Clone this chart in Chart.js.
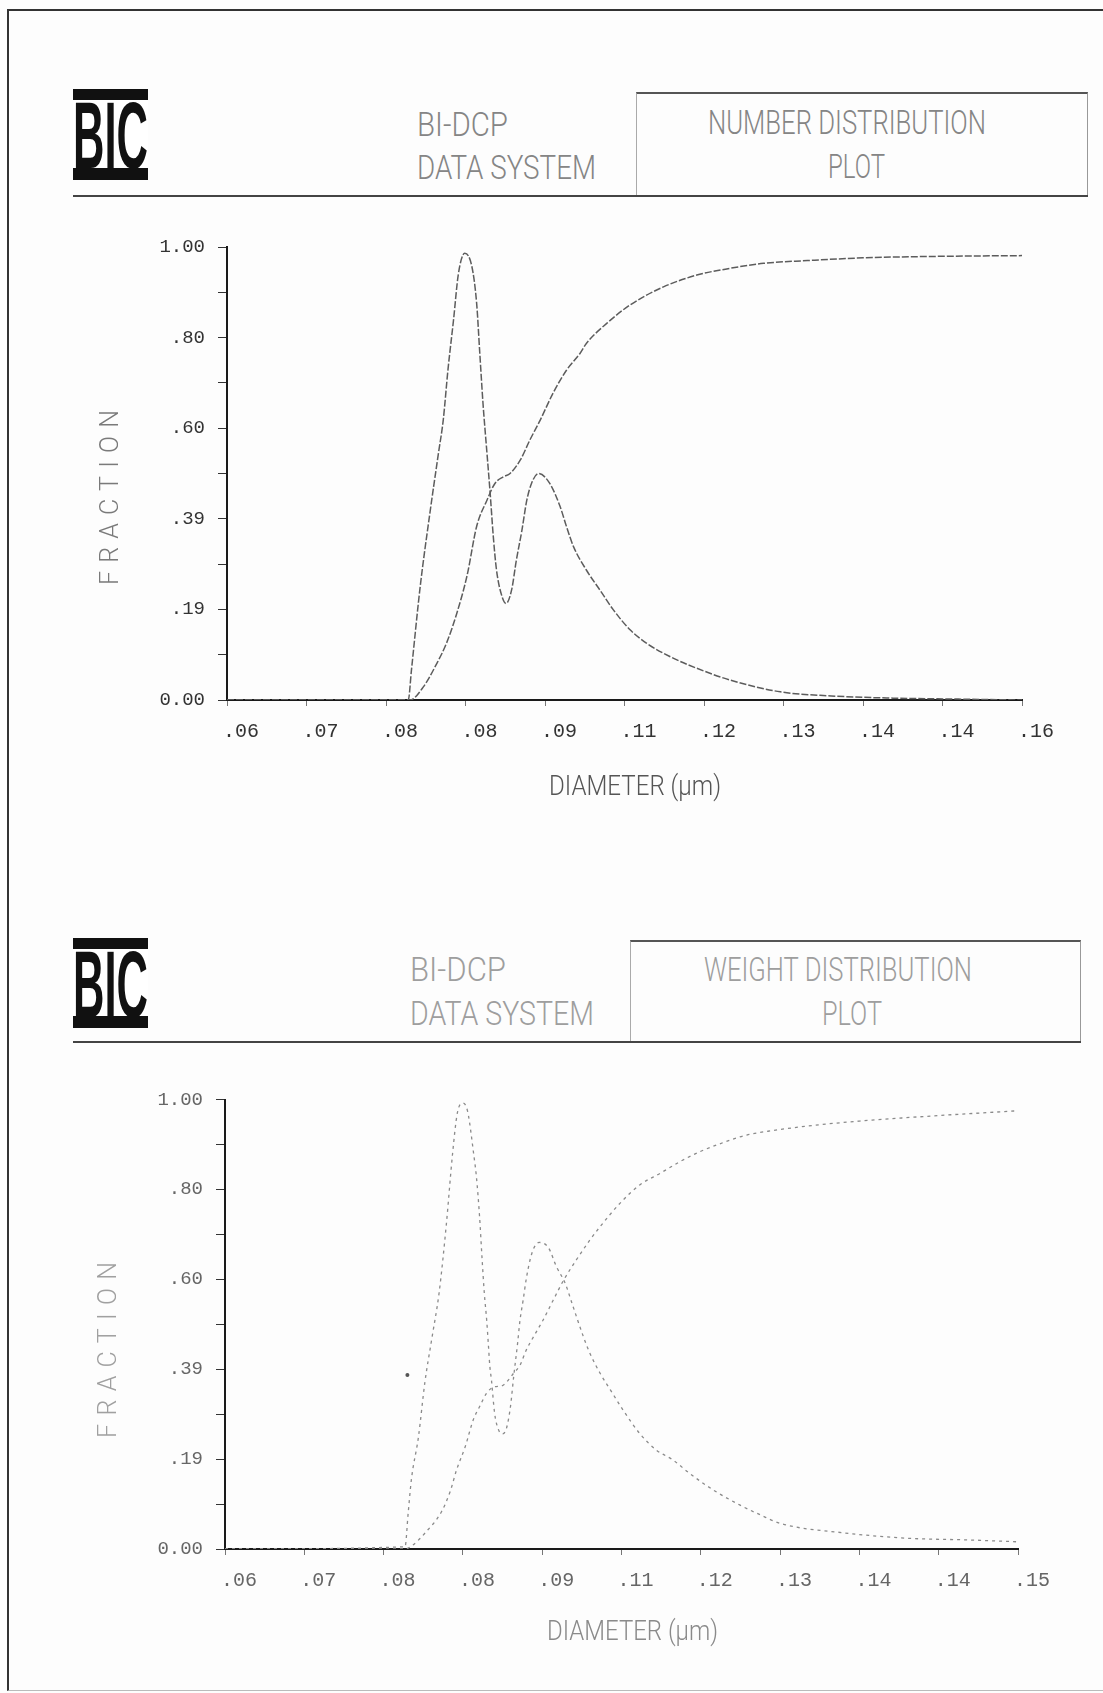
<!DOCTYPE html>
<html>
<head>
<meta charset="utf-8">
<script src="https://cdn.jsdelivr.net/npm/chart.js@4.4.1/dist/chart.umd.min.js"></script>
<style>
html,body{margin:0;padding:0;background:#fdfdfd;}
body{width:1103px;height:1693px;position:relative;overflow:hidden;}
.frame{position:absolute;left:7px;top:9px;width:1096px;height:1682px;border-left:2px solid #333;border-top:2px solid #333;border-bottom:1px solid #bbb;box-sizing:border-box;}
.hline{position:absolute;height:2px;background:#444;}
.box{position:absolute;border-top:2px solid #555;border-left:1px solid #aaa;border-right:1px solid #999;box-sizing:border-box;}
.logo{position:absolute;background:#fff;border-top:11px solid #111;border-bottom:12px solid #111;box-sizing:border-box;overflow:hidden;}
.logo span{position:absolute;left:0;top:-12px;font:bold 95px/95px 'Liberation Sans',Arial,sans-serif;color:#111;transform-origin:0 0;white-space:nowrap;}
.t{position:absolute;white-space:nowrap;font-family:Roboto,'Liberation Sans',sans-serif;font-weight:300;line-height:1;transform-origin:0 50%;}
canvas{position:absolute;left:0;}
</style>
</head>
<body>
<div class="frame"></div>

<div class="logo" style="left:73px;top:89px;width:75px;height:91px"><span>BIC</span></div>
<div class="box" style="left:636px;top:92px;width:452px;height:104px"></div>
<div class="hline" style="left:73px;top:195px;width:1015px"></div>
<canvas id="c1" width="1103" height="620" style="top:200px;width:1103px;height:620px"></canvas>

<div class="logo" style="left:73px;top:938px;width:75px;height:90px"><span>BIC</span></div>
<div class="box" style="left:630px;top:940px;width:451px;height:102px"></div>
<div class="hline" style="left:73px;top:1041px;width:1008px"></div>
<canvas id="c2" width="1103" height="620" style="top:1050px;width:1103px;height:620px"></canvas>

<script>
// ---------- data ----------
const xTickValues = [0.06,0.07,0.08,0.09,0.10,0.11,0.12,0.13,0.14,0.15,0.16];
const yTickValues = [0,0.1,0.2,0.3,0.4,0.5,0.6,0.7,0.8,0.9,1.0];
const numXTickLabels = ['.06','.07','.08','.08','.09','.11','.12','.13','.14','.14','.16'];
const wtXTickLabels  = ['.06','.07','.08','.08','.09','.11','.12','.13','.14','.14','.15'];
const numYTickLabels = ['0.00','','.19','','.39','','.60','','.80','','1.00'];
const wtYTickLabels  = ['0.00','','.19','','.39','','.60','','.80','','1.00'];

// Number distribution: differential curve
const numDistD = [0.0600,0.0828,0.0832,0.0843,0.0855,0.0866,0.0872,0.0878,0.0885,0.0891,0.0899,0.0908,0.0914,0.0918,0.0922,0.0927,0.0931,0.0935,0.0939,0.0946,0.0951,0.0958,0.0964,0.0971,0.0977,0.0983,0.0992,0.1006,0.1019,0.1027,0.1036,0.1052,0.1069,0.1086,0.1107,0.1128,0.1157,0.1191,0.1233,0.1296,0.1360,0.1440,0.1520,0.1600];
const numDistF = [0,0,0.066,0.25,0.41,0.545,0.618,0.73,0.84,0.94,0.986,0.957,0.876,0.765,0.655,0.545,0.457,0.36,0.287,0.228,0.213,0.243,0.309,0.375,0.44,0.478,0.50,0.478,0.427,0.383,0.338,0.287,0.243,0.199,0.155,0.125,0.096,0.070,0.044,0.018,0.009,0.004,0.002,0.0];
// Number distribution: cumulative curve
const numCumD = [0.0600,0.0830,0.0847,0.0864,0.0876,0.0889,0.0902,0.0914,0.0927,0.0937,0.0948,0.0956,0.0969,0.0981,0.0994,0.1010,0.1027,0.1044,0.1052,0.1078,0.1107,0.1149,0.1191,0.1233,0.1275,0.1330,0.1400,0.1480,0.1600];
const numCumF = [0,0,0.029,0.081,0.125,0.191,0.275,0.383,0.441,0.478,0.493,0.50,0.53,0.574,0.618,0.677,0.728,0.765,0.787,0.832,0.872,0.912,0.938,0.953,0.964,0.970,0.976,0.979,0.981];

// Weight distribution: differential curve
const wtDistD = [0.0600,0.0827,0.0831,0.0835,0.0844,0.0852,0.0861,0.0870,0.0879,0.0887,0.0893,0.0900,0.0906,0.0914,0.0917,0.0921,0.0924,0.0927,0.0930,0.0932,0.0934,0.0936,0.0940,0.0945,0.0950,0.0955,0.0960,0.0964,0.0969,0.0972,0.0976,0.0980,0.0987,0.0996,0.1008,0.1018,0.1029,0.1039,0.1052,0.1060,0.1073,0.1086,0.1102,0.1123,0.1144,0.1165,0.1186,0.1216,0.1249,0.1275,0.1300,0.1380,0.1460,0.1540,0.1600];
const wtDistF = [0,0.005,0.08,0.154,0.25,0.37,0.47,0.57,0.72,0.88,0.97,0.992,0.973,0.873,0.829,0.74,0.651,0.569,0.509,0.458,0.406,0.376,0.302,0.265,0.256,0.269,0.317,0.383,0.458,0.509,0.554,0.602,0.658,0.682,0.67,0.628,0.591,0.539,0.472,0.436,0.391,0.354,0.309,0.257,0.22,0.198,0.168,0.131,0.098,0.076,0.057,0.036,0.024,0.02,0.016];
// Weight distribution: cumulative curve
const wtCumD = [0.0600,0.0827,0.0837,0.0852,0.0873,0.0884,0.0892,0.0903,0.0913,0.0922,0.0930,0.0940,0.0949,0.0964,0.0972,0.0980,0.0989,0.1001,0.1014,0.1027,0.1043,0.1060,0.1073,0.1098,0.1123,0.1149,0.1174,0.1199,0.1228,0.1258,0.1291,0.1340,0.1400,0.1480,0.1600];
const wtCumF = [0,0,0.009,0.035,0.083,0.128,0.176,0.228,0.287,0.32,0.347,0.361,0.363,0.391,0.409,0.443,0.472,0.509,0.554,0.598,0.643,0.687,0.717,0.769,0.81,0.836,0.862,0.884,0.904,0.921,0.931,0.942,0.952,0.962,0.975];
// stray speck on the weight plot
const wtSpeckD = [0.0830];
const wtSpeckF = [0.387];

// ---------- helpers ----------
const xy = (ds, fs) => ds.map((d, i) => ({x: d, y: fs[i]}));

function makeChart(id, cfg) {
  const datasets = [
    {data: xy(cfg.distD, cfg.distF), borderColor: cfg.lineColor, borderWidth: cfg.lineWidth, borderDash: cfg.dash, cubicInterpolationMode: 'monotone', pointRadius: 0},
    {data: xy(cfg.cumD, cfg.cumF), borderColor: cfg.lineColor, borderWidth: cfg.lineWidth, borderDash: cfg.dash, cubicInterpolationMode: 'monotone', pointRadius: 0}
  ];
  if (cfg.speckD) {
    datasets.push({data: xy(cfg.speckD, cfg.speckF), showLine: false, pointRadius: 2, pointBackgroundColor: '#555', pointBorderWidth: 0});
  }
  return new Chart(document.getElementById(id), {
    type: 'line',
    data: {datasets},
    options: {
      responsive: false, animation: false,
      layout: {padding: {left: 0, right: cfg.padRight, top: cfg.padTop, bottom: 0}},
      plugins: {legend: {display: false}, tooltip: {enabled: false}},
      scales: {
        x: {
          type: 'linear', min: 0.06, max: 0.16,
          afterBuildTicks: s => { s.ticks = xTickValues.map(v => ({value: v})); },
          afterFit: s => { s.height = cfg.xHeight; },
          ticks: {autoSkip: false, maxRotation: 0, minRotation: 0, labelOffset: 14, padding: 14,
                  color: cfg.tickColor, font: {family: "'Liberation Mono', monospace", size: 20},
                  callback: (v, i) => cfg.xLabels[i]},
          grid: {display: true, drawOnChartArea: false, drawTicks: true, tickLength: 6, color: '#777', lineWidth: 1},
          border: {display: true, color: '#1a1a1a', width: 2}
        },
        y: {
          type: 'linear', min: 0, max: 1,
          afterBuildTicks: s => { s.ticks = yTickValues.map(v => ({value: v})); },
          afterFit: s => { s.width = cfg.yWidth; },
          ticks: {autoSkip: false, padding: 13, color: cfg.tickColor,
                  font: {family: "'Liberation Mono', monospace", size: 19},
                  callback: (v, i) => cfg.yLabels[i]},
          grid: {display: true, drawOnChartArea: false, drawTicks: true, tickLength: 9, color: '#333', lineWidth: 1},
          border: {display: true, color: '#1a1a1a', width: 2}
        }
      }
    }
  });
}

function put(text, left, width, cy, fs, color) {
  const d = document.createElement('div');
  d.className = 't';
  d.textContent = text;
  d.style.fontSize = fs + 'px';
  d.style.color = color;
  d.style.left = left + 'px';
  d.style.top = (cy - fs * 0.5) + 'px';
  document.body.appendChild(d);
  const w = d.getBoundingClientRect().width;
  d.style.transform = 'scaleX(' + (width / w) + ')';
}
function putV(text, cx, cy, length, fs, color) {
  const d = document.createElement('div');
  d.className = 't';
  d.textContent = text;
  d.style.fontSize = fs + 'px';
  d.style.color = color;
  document.body.appendChild(d);
  const w0 = d.getBoundingClientRect().width;
  const ls = (length - w0) / (text.length - 1);
  d.style.letterSpacing = ls + 'px';
  d.style.transformOrigin = '0 0';
  d.style.left = (cx - fs / 2) + 'px';
  d.style.top = (cy + length / 2) + 'px';
  d.style.transform = 'rotate(-90deg)';
}
function fitLogos() {
  document.querySelectorAll('.logo span').forEach(s => {
    const w = s.getBoundingClientRect().width;
    s.style.transform = 'scaleX(' + (75 / w) + ')';
  });
}

// ---------- page ----------
fitLogos();

put('BI-DCP', 417, 91, 124, 34, '#858585');
put('DATA SYSTEM', 417, 179, 167, 34, '#858585');
put('NUMBER DISTRIBUTION', 708, 278, 121.5, 34, '#858585');
put('PLOT', 828, 57, 165.5, 34, '#858585');
putV('FRACTION', 109, 497, 175, 25, '#7a7a7a');
put('DIAMETER (μm)', 549, 172, 786, 28, '#555');

put('BI-DCP', 410, 96, 969, 34, '#9e9e9e');
put('DATA SYSTEM', 410, 184, 1013, 34, '#9e9e9e');
put('WEIGHT DISTRIBUTION', 704, 268, 969, 34, '#9e9e9e');
put('PLOT', 822, 60, 1013, 34, '#9e9e9e');
putV('FRACTION', 107, 1350, 176, 25, '#a0a0a0');
put('DIAMETER (μm)', 547, 171, 1631, 28, '#8a8a8a');

makeChart('c1', {
  distD: numDistD, distF: numDistF, cumD: numCumD, cumF: numCumF,
  xLabels: numXTickLabels, yLabels: numYTickLabels,
  lineColor: '#5c5c5c', lineWidth: 1.5, dash: [7, 2], tickColor: '#333',
  padTop: 47, padRight: 81, xHeight: 120, yWidth: 227
});
makeChart('c2', {
  distD: wtDistD, distF: wtDistF, cumD: wtCumD, cumF: wtCumF,
  speckD: wtSpeckD, speckF: wtSpeckF,
  xLabels: wtXTickLabels, yLabels: wtYTickLabels,
  lineColor: '#8a8a8a', lineWidth: 1.3, dash: [3, 4], tickColor: '#666',
  padTop: 49.5, padRight: 85, xHeight: 121, yWidth: 225
});
</script>
</body>
</html>
